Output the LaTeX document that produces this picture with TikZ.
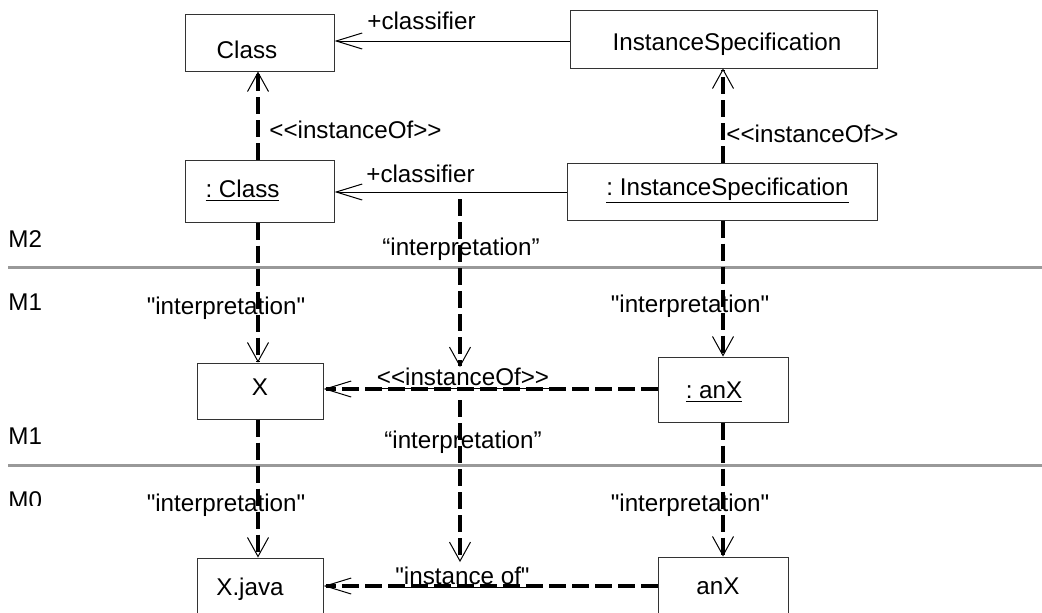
\documentclass[tikz,border=0pt]{standalone}
\usepackage{fontspec}
\newfontfamily\umlfont{Liberation Sans}
\usetikzlibrary{arrows.meta}
\frenchspacing
\begin{document}
\begin{tikzpicture}[x=0.5pt,y=-0.5pt,
  every node/.style={font=\umlfont\fontsize{12.1}{14}\selectfont\frenchspacing},
  box/.style={draw=black!80, line width=0.5pt, inner sep=0pt},
  txt/.style={inner sep=0pt, anchor=base},
  txtw/.style={inner sep=0pt, anchor=base west},
  assoc/.style={line width=0.5pt, -{Straight Barb[length=13pt,width=8pt,line width=0.5pt]}},
  depv/.style={line width=1.6pt, dash pattern=on 8.5pt off 3pt, -{Straight Barb[length=9.5pt,width=10.5pt,line width=0.5pt]}},
  deph/.style={line width=1.6pt, dash pattern=on 8.5pt off 3pt, -{Straight Barb[length=13pt,width=8pt,line width=0.5pt]}},
  layer/.style={line width=1.5pt, draw=black!40}
]
\useasboundingbox (0,0) rectangle (1042,612);
\clip (0,0) rectangle (1042,612);

% helper coordinates
\coordinate (xL) at (258,0);
\coordinate (xR) at (723,0);
\coordinate (xM) at (460,0);
\coordinate (yTop) at (0,41);
\coordinate (yMid) at (0,192);
\coordinate (yOne) at (0,389);
\coordinate (yZero) at (0,586);

% boxes
\node[box, minimum width=74.5pt, minimum height=28.5pt] (cls) at (259.5,42.5) {};
\node[box, minimum width=153.5pt, minimum height=29pt] (isp) at (723.5,39) {};
\node[box, minimum width=74.5pt, minimum height=31pt] (clsi) at (259.5,191) {};
\node[box, minimum width=155pt, minimum height=28.5pt] (ispi) at (722,191.5) {};
\node[box, minimum width=63pt, minimum height=28pt] (X) at (260,391) {};
\node[box, minimum width=65pt, minimum height=32.5pt] (anXi) at (723,389.5) {};
\node[box, minimum width=63pt, minimum height=28pt] (Xj) at (260,586) {};
\node[box, minimum width=65pt, minimum height=32.5pt] (anX) at (723,589.5) {};

% box texts
\node[txt] (tcls) at (247,58) {Class};
\node[txt] (tisp) at (727,50) {InstanceSpecification};
\node[txt] (tclsi) at (242.5,197) {\underline{: Class}};
\node[txt] (tispi) at (727.5,195) {\underline{: InstanceSpecification}};
\node[txt] (tX) at (260,395) {X};
\node[txt] (tanXi) at (714,398) {\underline{: anX}};
\node[txt] (tXj) at (250,595) {X.java};
\node[txt] (tanX) at (718,594) {anX};

% layer separators
\draw[layer] (8,267) -- (1042,267);
\draw[layer] (8,465) -- (1042,465);

% layer names
\node[txtw] (m2) at (8,247) {M2};
\node[txtw] (m1a) at (8,310) {M1};
\node[txtw] (m1b) at (8,444) {M1};
\begin{scope}
\clip (0,480) rectangle (120,505);
\node[txtw] (m0) at (8,508) {M0};
\end{scope}

% associations
\draw[assoc] (isp.west |- yTop) -- (cls.east |- yTop);
\node[txt] (lc1) at (421.5,29) {+classifier};
\draw[assoc] (ispi.west |- yMid) -- (clsi.east |- yMid);
\node[txt] (lc2) at (420.5,182) {+classifier};

% instanceOf dependencies (M2)
\draw[depv] (clsi.north -| xL) -- (cls.south -| xL);
\node[txtw] (li1) at (269,138) {<<instanceOf>>};
\draw[depv] (ispi.north -| xR) -- (isp.south -| xR);
\node[txtw] (li2) at (726,142) {<<instanceOf>>};

% interpretations M2 -> M1
\draw[depv] (clsi.south -| xL) -- (X.north -| xL);
\node[txt] (lint1) at (226,314) {"interpretation"};
\draw[depv] (ispi.south -| xR) -- (anXi.north -| xR);
\node[txt] (lint2) at (690,312) {"interpretation"};

% instanceOf at M1
\draw[deph] (anXi.west |- yOne) -- (X.east |- yOne);
\node[txt] (li3) at (463,385) {\underline{<<instanceOf>>}};

% interpretations M1 -> M0
\draw[depv] (X.south -| xL) -- (Xj.north -| xL);
\node[txt] (lint3) at (226,511) {"interpretation"};
\draw[depv] (anXi.south -| xR) -- (anX.north -| xR);
\node[txt] (lint4) at (690,511) {"interpretation"};

% instance of at M0
\draw[deph] (anX.west |- yZero) -- (Xj.east |- yZero);
\node[txt] (li4) at (462.5,584) {\underline{"instance of"}};

% link-to-link interpretations
\coordinate (s1) at (460,199);
\coordinate (s2) at (460,400);
\draw[depv] (s1) -- (li3.north -| xM);
\node[txt] (lint5) at (461,255) {“interpretation”};
\draw[depv] (s2) -- ([yshift=2pt]li4.north -| xM);
\node[txt] (lint6) at (463,448) {“interpretation”};
\end{tikzpicture}
\end{document}
